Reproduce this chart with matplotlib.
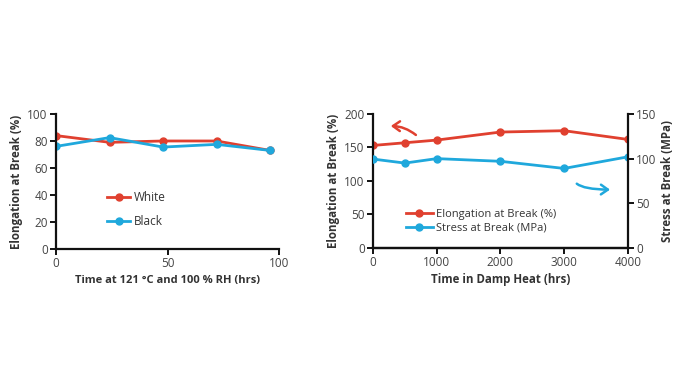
import matplotlib
matplotlib.use("Agg")
import matplotlib.pyplot as plt
from matplotlib.patches import FancyArrowPatch

# ---------------------------------------------------------------------------
# Data
# ---------------------------------------------------------------------------
hours_121 = [0, 24, 48, 72, 96]
white_elong = [84, 79, 80, 80, 73]
black_elong = [76, 82.5, 75.5, 77.5, 73]

hours_dh = [0, 500, 1000, 2000, 3000, 4000]
elong_dh = [153, 157, 161, 173, 175, 162]
stress_dh = [99.5, 95, 100, 97, 89, 102]

RED = "#e0402f"
BLUE = "#1fa8dc"
TXT = "#333333"

plt.rcParams["font.family"] = ["Open Sans", "DejaVu Sans"]


def style_axis(ax, right=False):
    ax.spines["top"].set_visible(False)
    if not right:
        ax.spines["right"].set_visible(False)
    for side in ("left", "bottom", "right"):
        ax.spines[side].set_linewidth(1.6)
        ax.spines[side].set_color("#111111")
    ax.tick_params(width=1.4, length=4, labelsize=8.5, colors="#111111",
                   labelcolor="#444444", pad=2)


fig = plt.figure(figsize=(6.96, 3.85), dpi=100)

# ---------------------------------------------------------------------------
# Left panel
# ---------------------------------------------------------------------------
ax1 = fig.add_axes([0.0805, 0.353, 0.3205, 0.351])
ax1.plot(hours_121, white_elong, color=RED, lw=2, marker="o", ms=5, label="White")
ax1.plot(hours_121, black_elong, color=BLUE, lw=2, marker="o", ms=5, label="Black")
ax1.set_xlim(0, 100)
ax1.set_ylim(0, 100)
ax1.set_xticks([0, 50, 100])
ax1.set_yticks([0, 20, 40, 60, 80, 100])
style_axis(ax1)
ax1.set_xlabel("Time at 121 °C and 100 % RH (hrs)", fontsize=8,
               fontweight="bold", color=TXT, labelpad=3)
ax1.set_ylabel("Elongation at Break (%)", fontsize=8.3,
               fontweight="bold", color=TXT, labelpad=3)
ax1.legend(loc="lower left", bbox_to_anchor=(0.18, 0.08), frameon=False,
           fontsize=8.5, handlelength=2.0, labelspacing=0.9, handletextpad=0.3,
           labelcolor=TXT)

# ---------------------------------------------------------------------------
# Right panel (twin axes)
# ---------------------------------------------------------------------------
ax2 = fig.add_axes([0.536, 0.356, 0.366, 0.348])
ax3 = ax2.twinx()
l1, = ax2.plot(hours_dh, elong_dh, color=RED, lw=2, marker="o", ms=5,
               label="Elongation at Break (%)")
l2, = ax3.plot(hours_dh, stress_dh, color=BLUE, lw=2, marker="o", ms=5,
               label="Stress at Break (MPa)")
ax2.set_xlim(0, 4000)
ax2.set_ylim(0, 200)
ax3.set_ylim(0, 150)
ax2.set_xticks([0, 1000, 2000, 3000, 4000])
ax2.set_yticks([0, 50, 100, 150, 200])
ax3.set_yticks([0, 50, 100, 150])
style_axis(ax2)
style_axis(ax3, right=True)
ax3.spines["left"].set_visible(False)
ax2.set_xlabel("Time in Damp Heat (hrs)", fontsize=8.3,
               fontweight="bold", color=TXT, labelpad=3)
ax2.set_ylabel("Elongation at Break (%)", fontsize=8.3,
               fontweight="bold", color=TXT, labelpad=3)
ax3.set_ylabel("Stress at Break (MPa)", fontsize=8.3,
               fontweight="bold", color=TXT, labelpad=3)
ax2.legend([l1, l2], [l1.get_label(), l2.get_label()], loc="lower left",
           bbox_to_anchor=(0.09, 0.03), frameon=False, fontsize=8,
           handlelength=2.4, labelspacing=0.3, handletextpad=0.3,
           labelcolor=TXT)

# curved arrows pointing to the relevant axis
ax2.add_patch(FancyArrowPatch((706, 166), (235, 182), connectionstyle="arc3,rad=0.2",
                              arrowstyle="->,head_length=5,head_width=3.5",
                              color=RED, lw=1.8, mutation_scale=1))
ax2.add_patch(FancyArrowPatch((3170, 99), (3765, 87),
                              connectionstyle="angle3,angleA=-60,angleB=0",
                              arrowstyle="->,head_length=5,head_width=3.5",
                              color=BLUE, lw=1.8, mutation_scale=1))

fig.savefig("out.png", dpi=100)
